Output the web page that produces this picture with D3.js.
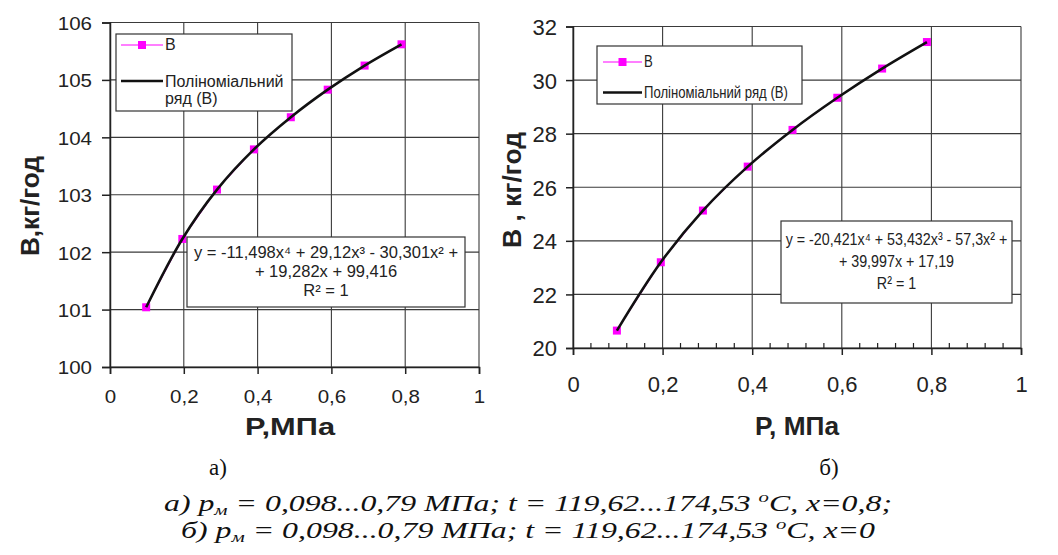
<!DOCTYPE html>
<html>
<head>
<meta charset="utf-8">
<script src="https://cdn.jsdelivr.net/npm/d3@7"></script>
<style>
  body { margin: 0; background: white; }
  svg { display: block; }
</style>
</head>
<body>
<div id="chart"></div>
<script>
// two flow-rate charts with polynomial trend lines

// pressure values (same for both charts)
const pressure = [0.098, 0.196, 0.29, 0.39, 0.49, 0.59, 0.69, 0.79];

// flow values
const flowA = [101.04, 102.23, 103.09, 103.79, 104.35, 104.83, 105.25, 105.62];
const flowB = [20.65, 23.2, 25.13, 26.77, 28.14, 29.34, 30.43, 31.42];

// tick labels
const xTicks = [0, 0.2, 0.4, 0.6, 0.8, 1];
const yTicksA = [100, 101, 102, 103, 104, 105, 106];
const yTicksB = [20, 22, 24, 26, 28, 30, 32];

// legend and equation texts
const legendNames = ["B", "Поліноміальний ряд (B)"];
const eqA = ["y = -11,498x⁴ + 29,12x³ - 30,301x² +", "+ 19,282x + 99,416", "R² = 1"];
const eqB = ["y = -20,421x⁴ + 53,432x³ - 57,3x² +", "+ 39,997x + 17,19", "R² = 1"];

const W = 1058, H = 555;
const magenta = "#ff00ff";
const sans = "'Liberation Sans', Arial, sans-serif";
const serif = "'Liberation Serif', 'Times New Roman', serif";
const fmt = d => String(d).replace(".", ",");

const svg = d3.select("#chart").append("svg")
  .attr("width", W)
  .attr("height", H);

// squeeze or stretch a text to a given width (the source fonts are narrower)
function fitWidth(sel, ratio) {
  sel.each(function() {
    const len = this.getComputedTextLength();
    d3.select(this).attr("textLength", len * ratio).attr("lengthAdjust", "spacingAndGlyphs");
  });
}

function drawChart(o) {
  const x = d3.scaleLinear().domain([0, 1]).range([o.left, o.right]);
  const y = d3.scaleLinear().domain(o.yDomain).range([o.bottom, o.top]);
  const g = svg.append("g");

  // gridlines
  g.append("g")
    .selectAll("line")
    .data(o.yTicks)
    .join("line")
      .attr("x1", x(0)).attr("x2", x(1))
      .attr("y1", d => y(d)).attr("y2", d => y(d))
      .attr("stroke", "#3a3a3a").attr("stroke-width", 1.1);
  g.append("g")
    .selectAll("line")
    .data(xTicks)
    .join("line")
      .attr("x1", d => x(d)).attr("x2", d => x(d))
      .attr("y1", y(o.yDomain[0])).attr("y2", y(o.yDomain[1]))
      .attr("stroke", "#3a3a3a").attr("stroke-width", 1.1);

  // axes
  const yAxis = g.append("g")
    .attr("transform", `translate(${x(0)},0)`)
    .call(d3.axisLeft(y).tickValues(o.yTicks).tickSize(o.yTick).tickPadding(o.yPad).tickFormat(fmt));
  const xAxis = g.append("g")
    .attr("transform", `translate(0,${y(o.yDomain[0])})`)
    .call(d3.axisBottom(x).tickValues(xTicks).tickSize(7).tickPadding(o.xPad).tickFormat(fmt));
  [yAxis, xAxis].forEach(a => {
    a.select(".domain").attr("stroke", "#222").attr("stroke-width", 1.5);
    a.selectAll(".tick line").attr("stroke", "#222").attr("stroke-width", 1.5);
    a.selectAll(".tick text")
      .attr("fill", "#222")
      .style("font-family", sans)
      .style("font-size", o.tickSize + "px");
  });
  yAxis.selectAll(".tick text").attr("dy", "0.36em");
  fitWidth(yAxis.selectAll(".tick text"), o.tickRatio);
  fitWidth(xAxis.selectAll(".tick text"), o.tickRatio);

  // minor ticks on the x axis (right chart only)
  if (o.minor) {
    g.append("g")
      .selectAll("line")
      .data(d3.range(0, 25).map(i => i * 0.04).filter((d, i) => i % 5 !== 0))
      .join("line")
        .attr("x1", d => x(d)).attr("x2", d => x(d))
        .attr("y1", y(o.yDomain[0])).attr("y2", y(o.yDomain[0]) - 5)
        .attr("stroke", "#222").attr("stroke-width", 1.2);
  }

  const pts = pressure.map((p, i) => [p, o.values[i]]);

  // series line
  g.append("path")
    .datum(pts)
    .attr("d", d3.line().x(d => x(d[0])).y(d => y(d[1])))
    .attr("fill", "none")
    .attr("stroke", magenta)
    .attr("stroke-width", 1);

  // markers
  g.append("g")
    .selectAll("rect")
    .data(pts)
    .join("rect")
      .attr("x", d => x(d[0]) - 4)
      .attr("y", d => y(d[1]) - 4)
      .attr("width", 8).attr("height", 8)
      .attr("fill", magenta);

  // trend line
  g.append("path")
    .datum(pts)
    .attr("d", d3.line().curve(d3.curveCatmullRom).x(d => x(d[0])).y(d => y(d[1])))
    .attr("fill", "none")
    .attr("stroke", "#111")
    .attr("stroke-width", 2.6);

  // legend
  const lg = o.legend;
  g.append("rect")
    .attr("x", lg.x).attr("y", lg.y).attr("width", lg.w).attr("height", lg.h)
    .attr("fill", "white").attr("stroke", "#333").attr("stroke-width", 1.2);
  g.append("line")
    .attr("x1", lg.lx1).attr("x2", lg.lx2).attr("y1", lg.y1).attr("y2", lg.y1)
    .attr("stroke", magenta).attr("stroke-width", 1.2);
  g.append("rect")
    .attr("x", (lg.lx1 + lg.lx2) / 2 - 4).attr("y", lg.y1 - 4)
    .attr("width", 8).attr("height", 8).attr("fill", magenta);
  g.append("line")
    .attr("x1", lg.lx1).attr("x2", lg.lx2).attr("y1", lg.y2).attr("y2", lg.y2)
    .attr("stroke", "#111").attr("stroke-width", 2.6);
  const lt = g.append("g")
    .style("font-family", sans)
    .style("font-size", lg.fs + "px")
    .attr("fill", "#222");
  lt.append("text").attr("x", lg.lx2 + 2).attr("y", lg.b1).text(legendNames[0]);
  lg.lines.forEach((t, i) => {
    lt.append("text").attr("x", lg.lx2 + 2).attr("y", lg.b2 + i * lg.dy).text(t);
  });
  fitWidth(lt.selectAll("text"), lg.ratio);

  // equation box
  const eb = o.eqBox;
  g.append("rect")
    .attr("x", eb.x).attr("y", eb.y).attr("width", eb.w).attr("height", eb.h)
    .attr("fill", "white").attr("stroke", "#333").attr("stroke-width", 1.2);
  const eqG = g.append("g");
  o.eq.forEach((t, i) => {
    eqG.append("text")
      .attr("x", eb.x + eb.w / 2)
      .attr("y", eb.ty + i * eb.dy)
      .attr("text-anchor", "middle")
      .attr("fill", "#222")
      .style("font-family", sans)
      .style("font-size", eb.fs + "px")
      .text(t);
  });
  fitWidth(eqG.selectAll("text"), eb.ratio);

  // axis titles
  g.append("text")
    .attr("transform", `translate(${o.yTitle.x},${o.yTitle.y}) rotate(-90)`)
    .attr("text-anchor", "middle")
    .attr("dy", "0.35em")
    .attr("fill", "#222")
    .attr("textLength", o.yTitle.len)
    .attr("lengthAdjust", "spacingAndGlyphs")
    .style("font-family", sans)
    .style("font-weight", "bold")
    .style("font-size", o.yTitle.fs + "px")
    .text(o.yTitle.text);
  g.append("text")
    .attr("x", o.xTitle.x).attr("y", o.xTitle.y)
    .attr("text-anchor", "middle")
    .attr("dy", "0.35em")
    .attr("fill", "#222")
    .attr("textLength", o.xTitle.len)
    .attr("lengthAdjust", "spacingAndGlyphs")
    .style("font-family", sans)
    .style("font-weight", "bold")
    .style("font-size", o.xTitle.fs + "px")
    .text(o.xTitle.text);
}

// chart a)
drawChart({
  left: 110, right: 479, top: 22.5, bottom: 367,
  yDomain: [100, 106], yTicks: yTicksA, values: flowA,
  tickSize: 19, tickRatio: 1.08, yTick: 8, yPad: 10, xPad: 16, minor: false,
  legend: { x: 116, y: 34, w: 176, h: 77, lx1: 121, lx2: 163, y1: 45, y2: 81,
            b1: 50, b2: 87, dy: 17, fs: 16, ratio: 1,
            lines: ["Поліноміальний", "ряд (B)"] },
  eqBox: { x: 187, y: 237, w: 278, h: 70, ty: 258, dy: 19, fs: 16.5, ratio: 1.0 },
  eq: eqA,
  yTitle: { x: 30, y: 206, text: "B,кг/год", fs: 25, len: 100 },
  xTitle: { x: 290, y: 427, text: "P,МПа", fs: 24, len: 90 }
});

// chart б)
drawChart({
  left: 573, right: 1021, top: 26.5, bottom: 348,
  yDomain: [20, 32], yTicks: yTicksB, values: flowB,
  tickSize: 22, tickRatio: 1.0, yTick: 7, yPad: 9, xPad: 21, minor: true,
  legend: { x: 597, y: 46, w: 205, h: 58, lx1: 603, lx2: 642, y1: 62, y2: 92.5,
            b1: 67, b2: 98, dy: 0, fs: 16, ratio: 0.82,
            lines: ["Поліноміальний ряд (B)"] },
  eqBox: { x: 781, y: 221, w: 231, h: 82, ty: 245, dy: 22, fs: 17, ratio: 0.84 },
  eq: eqB,
  yTitle: { x: 512, y: 190, text: "B , кг/год", fs: 25, len: 116 },
  xTitle: { x: 797, y: 426, text: "P, МПа", fs: 25, len: 84 }
});

// captions under the charts
const cap = svg.append("g")
  .attr("fill", "#111")
  .style("font-family", serif)
  .style("font-size", "23px");
cap.append("text").attr("x", 218).attr("y", 475).attr("text-anchor", "middle").text("а)");
cap.append("text").attr("x", 829).attr("y", 475).attr("text-anchor", "middle").text("б)");

function captionLine(yPos, pre, rest, len) {
  const t = cap.append("text")
    .attr("x", 528).attr("y", yPos)
    .attr("text-anchor", "middle")
    .attr("textLength", len)
    .attr("lengthAdjust", "spacingAndGlyphs")
    .style("font-style", "italic");
  t.append("tspan").text(pre + " p");
  t.append("tspan").attr("dy", 4).attr("font-size", "15px").text("м");
  t.append("tspan").attr("dy", -4).text(" = 0,098...0,79 МПа; t = 119,62...174,53 ");
  t.append("tspan").attr("dy", -9).attr("font-size", "15px").text("o");
  t.append("tspan").attr("dy", 9).text(rest);
}
captionLine(511, "а)", "С, x=0,8;", 728);
captionLine(538, "б)", "С, x=0", 694);
</script>
</body>
</html>
